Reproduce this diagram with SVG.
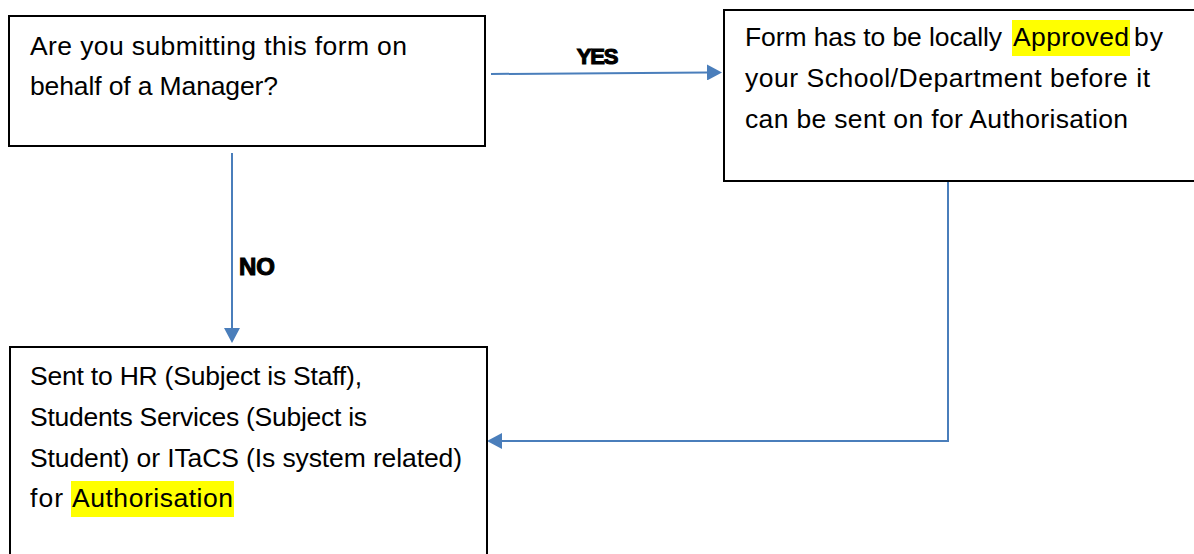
<svg xmlns="http://www.w3.org/2000/svg" width="1194" height="554" viewBox="0 0 1194 554">
  <style>
    .box { fill: #ffffff; stroke: #000000; stroke-width: 2; }
    .t { font-family: "Liberation Sans", Arial, sans-serif; font-size: 26.5px; fill: #000000; }
    .hl { fill: #ffff00; }
    .conn { fill: none; stroke: #4a7ebb; stroke-width: 2; }
    .lbl { font-family: "Liberation Sans", Arial, sans-serif; font-weight: bold; fill: #000000; stroke: #000000; stroke-width: 1.1; }
  </style>
  <defs>
    <marker id="arrow" markerUnits="userSpaceOnUse" viewBox="0 0 15 16" refX="0" refY="8" markerWidth="15" markerHeight="16" orient="auto">
      <path d="M0,0 L15,8 L0,16 z" fill="#4a7ebb"/>
    </marker>
  </defs>
  <rect width="1194" height="554" fill="#ffffff"/>

  <g id="connectors">
    <path class="conn" d="M491,74 L707,72.5" marker-end="url(#arrow)"/>
    <path class="conn" d="M232,153 L232,328" marker-end="url(#arrow)"/>
    <path class="conn" d="M948,182 L948,441 L502,441" marker-end="url(#arrow)"/>
    <text class="lbl" x="597" y="64" font-size="22" text-anchor="middle" letter-spacing="-1.2">YES</text>
    <text class="lbl" x="239" y="275" font-size="24">NO</text>
  </g>

  <g id="node-question">
    <rect class="box" x="9" y="16" width="476" height="130"/>
    <text class="t" x="30" y="55" textLength="377">Are you submitting this form on</text>
    <text class="t" x="30" y="95" textLength="248">behalf of a Manager?</text>
  </g>

  <g id="node-approve">
    <rect class="box" x="724" y="10" width="480" height="171"/>
    <rect class="hl" x="1012" y="20" width="118" height="36"/>
    <text class="t" x="745" y="46" textLength="257">Form has to be locally</text>
    <text class="t" x="1013" y="46" textLength="116">Approved</text>
    <text class="t" x="1134" y="46" textLength="29">by</text>
    <text class="t" x="745" y="87" textLength="405">your School/Department before it</text>
    <text class="t" x="745" y="128" textLength="383">can be sent on for Authorisation</text>
  </g>

  <g id="node-authorise">
    <rect class="box" x="10" y="347" width="477" height="220"/>
    <rect class="hl" x="71" y="481" width="163" height="36"/>
    <text class="t" x="30" y="385" textLength="332">Sent to HR (Subject is Staff),</text>
    <text class="t" x="30" y="426" textLength="337">Students Services (Subject is</text>
    <text class="t" x="30" y="467" textLength="432">Student) or ITaCS (Is system related)</text>
    <text class="t" x="30" y="507" textLength="33">for</text>
    <text class="t" x="72" y="507" textLength="161">Authorisation</text>
  </g>
</svg>
